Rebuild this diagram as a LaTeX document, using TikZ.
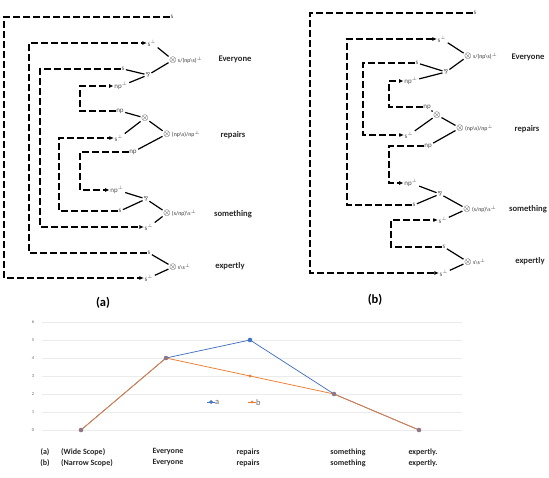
\documentclass[tikz,border=0pt]{standalone}
\usepackage{fontspec}
\setmainfont{Carlito}
\usetikzlibrary{arrows.meta}
\definecolor{serA}{RGB}{68,114,196}
\definecolor{serB}{RGB}{237,125,49}
\definecolor{serM}{RGB}{145,118,135}
\definecolor{gridc}{RGB}{235,235,235}
\begin{document}
\begin{tikzpicture}[x=1pt,y=-1pt,
  atom/.style={inner sep=0.6pt, font=\fontsize{7}{8}\selectfont, text=black!70},
  parr/.style={inner sep=0.3pt, font=\fontsize{6.5}{7}\selectfont, text=black!70},
  tens/.style={inner sep=0pt, font=\fontsize{9}{9}\selectfont},
  typ/.style={inner sep=0pt, anchor=west, font=\fontsize{5.8}{6.5}\selectfont, text=black!80},
  word/.style={inner sep=0pt, font=\bfseries\fontsize{8.6}{9}\selectfont, text=black!85},
  link/.style={line width=1.2pt, shorten <=0.8pt, shorten >=0.8pt},
  axl/.style={line width=1.15pt, dash pattern=on 6.5pt off 3.5pt},
  axa/.style={axl, -{Latex[length=4.5pt,width=4pt]}},
  captext/.style={inner sep=0pt, font=\bfseries\fontsize{12.5}{13}\selectfont},
  ylab/.style={inner sep=0pt, font=\fontsize{4.5}{5}\selectfont, text=black!60},
  btxt/.style={inner sep=0pt, font=\bfseries\fontsize{8}{9}\selectfont, text=black!85},
  lgd/.style={inner sep=0pt, font=\fontsize{8.5}{9}\selectfont, text=black!60}
]
\useasboundingbox (0,0) rectangle (549,478);
\newcommand{\parrsym}{\rotatebox[origin=c]{180}{\&}}
% ================= net (a) =================
\node[atom] (sTopA) at (172,17) {s};
% Everyone
\node[atom] (EsperpA) at (152,43) {s$^{\perp}$};
\node[atom] (EsA) at (123,69) {s};
\node[atom] (EnpA) at (121,86) {np$^{\perp}$};
\node[parr] (EparA) at (148,75) {\parrsym};
\node[tens] (EtensA) at (173,60) {$\otimes$};
\node[typ] (EtypA) at ([xshift=1pt]EtensA.east) {s/(np\textbackslash s)$^{\perp}$};
\node[word] (EwA) at (235,59) {Everyone};
% repairs
\node[atom] (RnpA) at (120,111) {np};
\node[tens] (RinA) at (145,118) {$\otimes$};
\node[atom] (RsperpA) at (119,138) {s$^{\perp}$};
\node[tens] (RoutA) at (167,134) {$\otimes$};
\node[typ] (RtypA) at ([xshift=1pt]RoutA.east) {(np\textbackslash s)/np$^{\perp}$};
\node[word] (RwA) at (233,135) {repairs};
\node[atom] (Rnp2A) at (133,152) {np};
% something
\node[atom] (SnpA) at (117,190) {np$^{\perp}$};
\node[parr] (SparA) at (146,199) {\parrsym};
\node[atom] (SsA) at (120,211) {s};
\node[tens] (StensA) at (167,213) {$\otimes$};
\node[typ] (StypA) at ([xshift=1pt]StensA.east) {(s/np)\textbackslash s$^{\perp}$};
\node[word] (SwA) at (233,214) {something};
\node[atom] (SsperpA) at (149,227) {s$^{\perp}$};
% expertly
\node[atom] (XsA) at (149,253) {s};
\node[tens] (XtensA) at (173,267) {$\otimes$};
\node[typ] (XtypA) at ([xshift=1pt]XtensA.east) {s\textbackslash s$^{\perp}$};
\node[word] (XwA) at (230,266) {expertly};
\node[atom] (XsperpA) at (149,278) {s$^{\perp}$};
% links (a)
\draw[link] (EsA) -- (EparA);
\draw[link] (EnpA) -- (EparA);
\draw[link] (EparA) -- (EtensA);
\draw[link] (EsperpA) -- (EtensA);
\draw[link] (RnpA) -- (RinA);
\draw[link] (RsperpA) -- (RinA);
\draw[link] (RinA) -- (RoutA);
\draw[link] (Rnp2A) -- (RoutA);
\draw[link] (SnpA) -- (SparA);
\draw[link] (SsA) -- (SparA);
\draw[link] (SparA) -- (StensA);
\draw[link] (SsperpA) -- (StensA);
\draw[link] (XsA) -- (XtensA);
\draw[link] (XsperpA) -- (XtensA);
% axis links (a)
\coordinate (ca1) at (4,0);
\coordinate (ca2) at (29,0);
\coordinate (ca3) at (40,0);
\coordinate (ca4) at (80,0);
\coordinate (ca5) at (59,0);
\draw[axa] (sTopA.west) -- (sTopA.west -| ca1) |- (XsperpA.west);
\draw[axa] (XsA.west) -- (XsA.west -| ca2) |- (EsperpA.west);
\draw[axa] (EsA.west) -- (EsA.west -| ca3) |- (SsperpA.west);
\draw[axa] (RnpA.west) -- (RnpA.west -| ca4) |- (EnpA.west);
\draw[axa] (SsA.west) -- (SsA.west -| ca5) |- (RsperpA.west);
\draw[axa] (Rnp2A.west) -- (Rnp2A.west -| ca4) |- (SnpA.west);
\node[captext] (capA) at (103,303) {(a)};
% ================= net (b) =================
\node[atom] (sTopB) at (475,13) {s};
\node[atom] (EsperpB) at (442,39) {s$^{\perp}$};
\node[atom] (EsB) at (417,63) {s};
\node[atom] (EnpB) at (411,81) {np$^{\perp}$};
\node[parr] (EparB) at (446,72) {\parrsym};
\node[tens] (EtensB) at (468,56) {$\otimes$};
\node[typ] (EtypB) at ([xshift=1pt]EtensB.east) {s/(np\textbackslash s)$^{\perp}$};
\node[word] (EwB) at (528,57) {Everyone};
\node[atom] (RnpB) at (427,107) {np};
\node[tens] (RinB) at (437,115) {$\otimes$};
\node[atom] (RsperpB) at (409,135) {s$^{\perp}$};
\node[tens] (RoutB) at (460,128) {$\otimes$};
\node[typ] (RtypB) at ([xshift=1pt]RoutB.east) {(np\textbackslash s)/np$^{\perp}$};
\node[word] (RwB) at (527,129) {repairs};
\node[atom] (Rnp2B) at (428,146) {np};
\node[atom] (SnpB) at (411,183) {np$^{\perp}$};
\node[parr] (SparB) at (440,194) {\parrsym};
\node[atom] (SsB) at (414,205) {s};
\node[tens] (StensB) at (467,209) {$\otimes$};
\node[typ] (StypB) at ([xshift=1pt]StensB.east) {(s/np)\textbackslash s$^{\perp}$};
\node[word] (SwB) at (528,209) {something};
\node[atom] (SsperpB) at (443,220) {s$^{\perp}$};
\node[atom] (XsB) at (444,247) {s};
\node[tens] (XtensB) at (468,262) {$\otimes$};
\node[typ] (XtypB) at ([xshift=1pt]XtensB.east) {s\textbackslash s$^{\perp}$};
\node[word] (XwB) at (530,261) {expertly};
\node[atom] (XsperpB) at (444,273) {s$^{\perp}$};
% links (b)
\draw[link] (EsB) -- (EparB);
\draw[link] (EnpB) -- (EparB);
\draw[link] (EparB) -- (EtensB);
\draw[link] (EsperpB) -- (EtensB);
\draw[link] (RnpB) -- (RinB);
\draw[link] (RsperpB) -- (RinB);
\draw[link] (RinB) -- (RoutB);
\draw[link] (Rnp2B) -- (RoutB);
\draw[link] (SnpB) -- (SparB);
\draw[link] (SsB) -- (SparB);
\draw[link] (SparB) -- (StensB);
\draw[link] (SsperpB) -- (StensB);
\draw[link] (XsB) -- (XtensB);
\draw[link] (XsperpB) -- (XtensB);
% axis links (b)
\coordinate (cb1) at (310,0);
\coordinate (cb2) at (347,0);
\coordinate (cb3) at (363,0);
\coordinate (cb4) at (389,0);
\coordinate (cb5) at (391,0);
\draw[axa] (sTopB.west) -- (sTopB.west -| cb1) |- (XsperpB.west);
\draw[axa] (SsB.west) -- (SsB.west -| cb2) |- (EsperpB.west);
\draw[axa] (EsB.west) -- (EsB.west -| cb3) |- (RsperpB.west);
\draw[axa] (RnpB.west) -- (RnpB.west -| cb4) |- (EnpB.west);
\draw[axa] (Rnp2B.west) -- (Rnp2B.west -| cb4) |- (SnpB.west);
\draw[axa] (XsB.west) -- (XsB.west -| cb5) |- (SsperpB.west);
\node[captext] (capB) at (375,300) {(b)};
% ================= chart =================
\foreach \v in {0,...,6} {
  \draw[gridc, line width=0.6pt] (42,{430-18*\v}) -- (462,{430-18*\v});
  \node[ylab] at (33,{430-18*\v}) {\v};
}
\draw[serA, line width=0.75pt] (81,430) -- (166,358) -- (250,340) -- (334,394) -- (419,430);
\draw[serB, line width=0.75pt] (81,430) -- (166,358) -- (250,376) -- (334,394) -- (419,430);
\fill[serA] (250,340) circle (2.3pt);
\fill[serB] (250,376) circle (1.6pt);
\foreach \px/\py in {81/430,166/358,334/394,419/430} {
  \fill[serM] (\px,\py) circle (2.3pt);
}
% legend
\draw[serA, line width=0.75pt] (207,402) -- (215,402);
\fill[serA] (211,400) -- (213,402) -- (211,404) -- (209,402) -- cycle;
\node[lgd, anchor=west] (lgA) at (215,402.5) {a};
\draw[serB, line width=0.75pt] (248,402) -- (256,402);
\fill[serB] (252,400.5) -- (253.5,402) -- (252,403.5) -- (250.5,402) -- cycle;
\node[lgd, anchor=west] (lgB) at (256,402.5) {b};
% bottom rows
\node[btxt] at (45,452) {(a)};
\node[btxt, anchor=west] at (61,452) {(Wide Scope)};
\node[btxt] at (168,452) {Everyone};
\node[btxt] at (248,452) {repairs};
\node[btxt] at (348,452) {something};
\node[btxt] at (423,452) {expertly.};
\node[btxt] at (45,463) {(b)};
\node[btxt, anchor=west] at (61,463) {(Narrow Scope)};
\node[btxt] at (168,463) {Everyone};
\node[btxt] at (248,463) {repairs};
\node[btxt] at (348,463) {something};
\node[btxt] at (423,463) {expertly.};
\end{tikzpicture}
\end{document}
